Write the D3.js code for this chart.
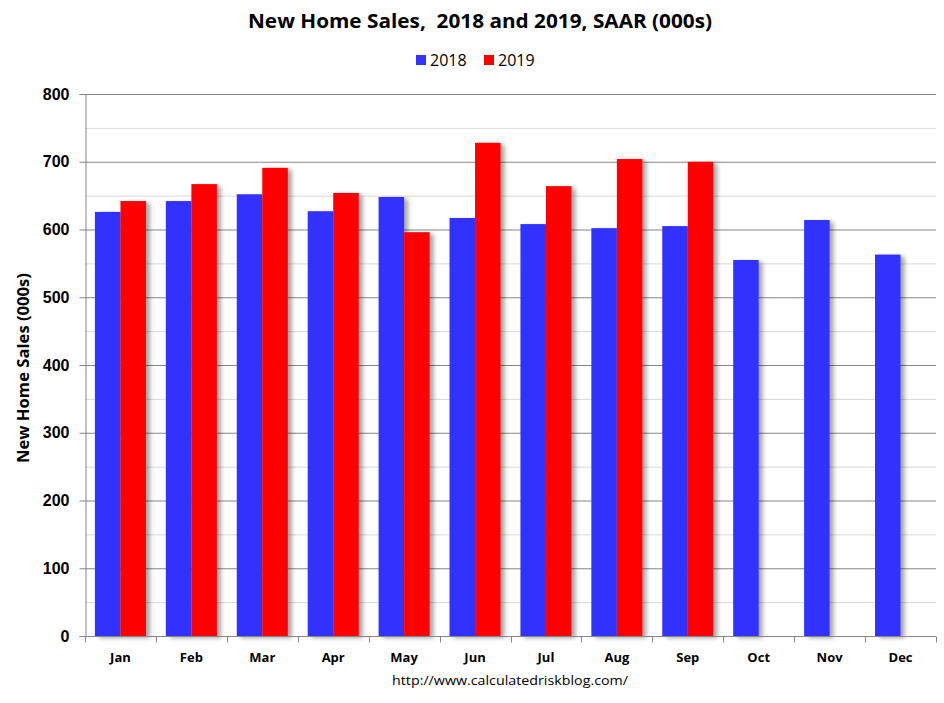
<!DOCTYPE html>
<html><head><meta charset="utf-8">
<script src="https://cdn.jsdelivr.net/npm/d3@7/dist/d3.min.js"></script>
<style>body{margin:0;background:#fff}svg{display:block}</style>
</head><body><div id="chart"></div>
<script>
const months = ["Jan","Feb","Mar","Apr","May","Jun","Jul","Aug","Sep","Oct","Nov","Dec"];
const sales2018 = [626,642,652,627,648,617,608,602,605,555,614,563];
const sales2019 = [642,667,691,654,596,728,664,704,700,null,null,null];
const seriesNames = ["2018","2019"];
const seriesColors = ["#3333ff","#ff0000"];
const yTicks = [0,100,200,300,400,500,600,700,800];

const W=944,H=703;
const m={l:85,r:8,t:94,b:67};
const svg=d3.select("#chart").append("svg").attr("width",W).attr("height",H);
const defs=svg.append("defs");
const f=defs.append("filter").attr("id","sh").attr("x","-20%").attr("y","-5%").attr("width","160%").attr("height","120%");
f.append("feDropShadow").attr("dx",4).attr("dy",2).attr("stdDeviation",2).attr("flood-color","#000").attr("flood-opacity",0.35);

const x=d3.scaleBand().domain(months).range([m.l,W-m.r]).paddingInner(0.28).paddingOuter(0.14);
const xb=d3.scaleBand().domain(months).range([m.l,W-m.r]);
const x1=d3.scaleBand().domain(seriesNames).range([0,x.bandwidth()]);
const y=d3.scaleLinear().domain([0,800]).range([H-m.b,m.t]);

// grid
const minor=d3.range(50,800,100);
svg.append("g").selectAll("line").data(minor).join("line")
 .attr("x1",m.l).attr("x2",W-m.r).attr("y1",d=>y(d)+0.5).attr("y2",d=>y(d)+0.5)
 .attr("stroke","#d9d9d9").attr("stroke-width",1);
svg.append("g").selectAll("line").data(yTicks.slice(1)).join("line")
 .attr("x1",m.l).attr("x2",W-m.r).attr("y1",d=>y(d)+0.5).attr("y2",d=>y(d)+0.5)
 .attr("stroke","#868686").attr("stroke-width",1);

// bars
const data=[sales2018,sales2019];
const g=svg.append("g").attr("filter","url(#sh)");
data.forEach((vals,si)=>{
  g.append("g").selectAll("rect").data(months.map((mo,i)=>({mo,v:vals[i]})).filter(d=>d.v!=null)).join("rect")
   .attr("x",d=>x(d.mo)+x1(seriesNames[si])).attr("width",x1.bandwidth())
   .attr("y",d=>y(d.v)).attr("height",d=>y(0)-y(d.v)).attr("fill",seriesColors[si]);
});

// axes
const ya=svg.append("g").attr("transform",`translate(${m.l+0.5},0)`)
 .call(d3.axisLeft(y).tickValues(yTicks).tickSize(6).tickPadding(10));
ya.select(".domain").attr("stroke","#868686");
ya.selectAll(".tick line").attr("stroke","#868686");
ya.selectAll("text").attr("font-family","Liberation Sans, Arial, sans-serif").attr("font-size",16).attr("font-weight","bold").attr("fill","#000");

const xa=svg.append("g").attr("transform",`translate(0,${y(0)+0.5})`);
xa.append("line").attr("x1",m.l).attr("x2",W-m.r).attr("stroke","#868686");
xa.selectAll("line.t").data(d3.range(13)).join("line").attr("class","t")
 .attr("x1",i=>Math.round(m.l+i*xb.step())+0.5).attr("x2",i=>Math.round(m.l+i*xb.step())+0.5)
 .attr("y1",0).attr("y2",6).attr("stroke","#868686");
xa.selectAll("text").data(months).join("text")
 .attr("x",d=>xb(d)+xb.bandwidth()/2).attr("y",25).attr("text-anchor","middle")
 .attr("font-family","Open Sans, sans-serif").attr("font-size",13).attr("font-weight","bold").text(d=>d);

// title
svg.append("text").attr("x",480).attr("y",28).attr("text-anchor","middle")
 .attr("font-family","Open Sans, sans-serif").attr("font-size",20).attr("font-weight","bold")
 .attr("textLength",464).attr("lengthAdjust","spacingAndGlyphs")
 .style("white-space","pre").text("New Home Sales,  2018 and 2019, SAAR (000s)");

// legend
const lg=svg.append("g");
const lx=[416,484];
seriesNames.forEach((s,i)=>{
  lg.append("rect").attr("x",lx[i]).attr("y",55).attr("width",10).attr("height",10).attr("fill",seriesColors[i]);
  lg.append("text").attr("x",lx[i]+14).attr("y",66).attr("font-family","Open Sans, sans-serif").attr("font-size",16).text(s);
});

// y title
svg.append("text").attr("transform",`translate(29,368) rotate(-90)`).attr("text-anchor","middle")
 .attr("font-family","Open Sans, sans-serif").attr("font-size",15.5).attr("font-weight","bold")
 .attr("textLength",190).attr("lengthAdjust","spacingAndGlyphs").text("New Home Sales (000s)");

// footer
svg.append("text").attr("x",510).attr("y",685).attr("text-anchor","middle")
 .attr("font-family","Open Sans, sans-serif").attr("font-size",13.5)
 .attr("textLength",236).attr("lengthAdjust","spacingAndGlyphs").text("http://www.calculatedriskblog.com/");
</script></body></html>
